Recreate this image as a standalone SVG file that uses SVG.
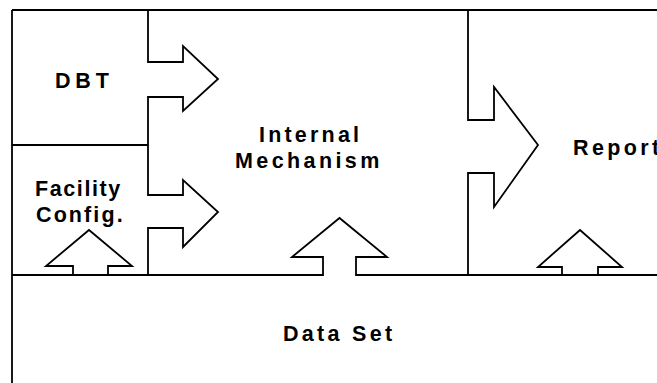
<svg xmlns="http://www.w3.org/2000/svg" width="657" height="383" viewBox="0 0 657 383">
<style>
.w{fill:none;stroke:#000;stroke-width:1.8;stroke-linejoin:miter}
.t{font-family:"Liberation Sans",Arial,sans-serif;font-weight:bold;font-size:21.5px;fill:#000}
</style>
<rect x="0" y="0" width="657" height="383" fill="#fff"/>
<g id="frame">
<path class="w" d="M12,10 H657 M12,10 V383"/>
</g>
<g id="dbt">
<path class="w" d="M12,145 H148"/>
<text class="t" x="55" y="88" style="letter-spacing:4.8px">DBT</text>
</g>
<g id="facility-config">
<text class="t" x="35" y="196" style="letter-spacing:1.6px">Facility</text>
<text class="t" x="36" y="222" style="letter-spacing:2.1px">Config.</text>
</g>
<g id="internal-mechanism">
<text class="t" x="259" y="142" style="letter-spacing:3.2px">Internal</text>
<text class="t" x="235" y="168" style="letter-spacing:3.4px">Mechanism</text>
</g>
<g id="report">
<text class="t" x="573" y="155" style="letter-spacing:3.4px">Report</text>
</g>
<g id="data-set">
<text class="t" x="283" y="341" style="letter-spacing:3.3px">Data Set</text>
</g>
<g id="connectors">
<path class="w" d="M148,10 V62 H183 V46 L218,79 L183,111 V97 H148 V195 H183 V180 L218,212 L183,247 V228 H148 V275"/>
<path class="w" d="M12,275 H323 V257 H292 L339.5,218 L387,257 H356 V275 H657"/>
<path class="w" d="M73,275 V266 H46 L89,230 L132,266 H108 V275"/>
<path class="w" d="M468,10 V120 H494 V87 L538,145 L494,207 V173 H468 V275"/>
<path class="w" d="M562,275 V267 H538 L580,230 L622,267 H598 V275"/>
</g>
</svg>
